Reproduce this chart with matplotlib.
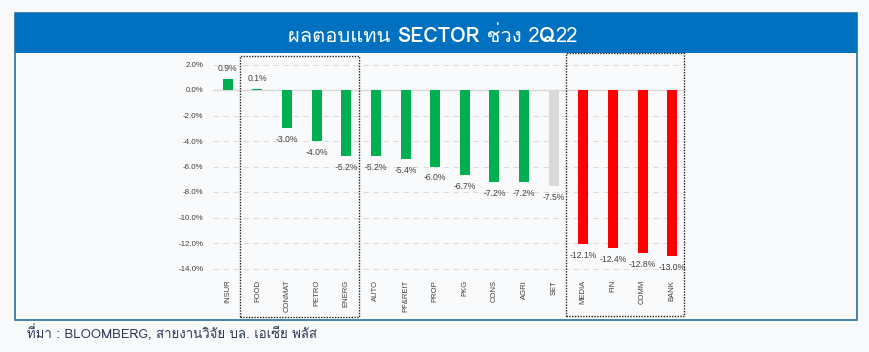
import matplotlib
matplotlib.use('Agg')
import matplotlib.pyplot as plt
import matplotlib.text as mtext
import numpy as np
from matplotlib import font_manager
from matplotlib.ft2font import FT2Font
from matplotlib.patches import Rectangle
from matplotlib.transforms import blended_transform_factory

sectors = ['INSUR', 'FOOD', 'CONMAT', 'PETRO', 'ENERG', 'AUTO', 'PF&REIT', 'PROP',
           'PKG', 'CONS', 'AGRI', 'SET', 'MEDIA', 'FIN', 'COMM', 'BANK']
returns = [0.9, 0.1, -3.0, -4.0, -5.2, -5.2, -5.4, -6.0,
           -6.7, -7.2, -7.2, -7.5, -12.1, -12.4, -12.8, -13.0]
worst_group = ['MEDIA', 'FIN', 'COMM', 'BANK']
boxed_group = ['FOOD', 'CONMAT', 'PETRO', 'ENERG']
yticks = np.arange(-14, 3, 2)

title_parts = [('ผลตอบแทน ', 'normal'), ('SECTOR', 'bold'), (' ช่วง 2', 'normal'),
               ('Q', 'bold'), ('22', 'normal')]
source = 'ที่มา : BLOOMBERG, สายงานวิจัย บล. เอเซีย พลัส'


def find_thai_family():
    for f in font_manager.fontManager.ttflist:
        try:
            if ord('ผ') in FT2Font(f.fname).get_charmap():
                return f.name
        except Exception:
            pass
    return None


thai = find_thai_family()
fams = ([thai] if thai else []) + ['Liberation Sans', 'DejaVu Sans']
plt.rcParams['font.family'] = ['Liberation Sans', 'DejaVu Sans']

W, H = 869, 352
fig = plt.figure(figsize=(W / 100, H / 100), dpi=100)
fig.set_facecolor('#f8f9fa')


def fx(px):
    return px / W


def fy(py):
    return 1 - py / H


# panel + title bar
fig.patches.append(Rectangle((fx(15), fy(320)), fx(857) - fx(15), fy(13) - fy(320),
                             transform=fig.transFigure, facecolor='#f9fafb',
                             edgecolor='#2a6f9e', linewidth=1.2, zorder=0))
fig.patches.append(Rectangle((fx(15), fy(53)), fx(857) - fx(15), fy(13) - fy(53),
                             transform=fig.transFigure, facecolor='#0070c0',
                             edgecolor='none', zorder=1))

# title, pieced together so SECTOR and Q are bold
prev = fig.text(fx(288), fy(34), title_parts[0][0], color='white', fontsize=14.5,
                fontweight=title_parts[0][1], family=fams, va='center_baseline', ha='left',
                zorder=3)
for txt, wt in title_parts[1:]:
    prev = fig.add_artist(mtext.Annotation(
        txt, xy=(1, 0), xycoords=prev, va='bottom', ha='left', color='white',
        fontsize=14.5, fontweight=wt, family=fams, zorder=3))

# main axes
top_pct, bot_pct = 2.55, -14.45
ax = fig.add_axes([fx(213), fy(90 + 12.75 * -bot_pct), fx(687) - fx(213),
                   12.75 * (top_pct - bot_pct) / H])
ax.set_zorder(2)
ax.set_facecolor('none')
x = np.arange(len(sectors))
colors = []
for s in sectors:
    if s == 'SET':
        colors.append('#d9d9d9')
    elif s in worst_group:
        colors.append('#ff0000')
    else:
        colors.append('#00b050')
ax.bar(x, returns, width=0.34, color=colors, zorder=3)
ax.axhline(0, color='#d9d9d9', lw=1, zorder=2)
ax.set_xlim(-0.5, len(sectors) - 0.5)
ax.set_ylim(bot_pct, top_pct)
ax.set_yticks(yticks)
ax.set_yticklabels(['%.1f%%' % v for v in yticks], fontsize=5.7, color='#404040')
ax.grid(axis='y', color='#dcdcdc', linestyle=(0, (5, 4)), lw=0.8, zorder=0)
ax.set_xticks(x)
ax.set_xticklabels(sectors, rotation=90, fontsize=5.5, color='#404040', va='top')
ax.tick_params(length=0)
ax.tick_params(axis='y', pad=7)
ax.tick_params(axis='x', pad=4)
for sp in ax.spines.values():
    sp.set_visible(False)

for xi, v in zip(x, returns):
    off = 4 if v >= 0 else -5
    ax.annotate('%.1f%%' % v, (xi, v), xytext=(0, off), textcoords='offset points',
                ha='center', va='bottom' if v >= 0 else 'top', fontsize=6.2,
                color='#404040', zorder=4)

# dotted boxes around groups
tr = blended_transform_factory(ax.transData, fig.transFigure)
i0, i1 = sectors.index(boxed_group[0]), sectors.index(boxed_group[-1])
ax.add_patch(Rectangle((i0 - 0.6, fy(317)), (i1 + 0.44) - (i0 - 0.6), fy(56) - fy(317),
                       transform=tr, fill=False, edgecolor='#222222', lw=1,
                       linestyle=(0, (1, 1)), clip_on=False, zorder=5))
j0, j1 = sectors.index(worst_group[0]), sectors.index(worst_group[-1])
ax.add_patch(Rectangle((j0 - 0.57, fy(316)), (j1 + 0.4) - (j0 - 0.57), fy(53) - fy(316),
                       transform=tr, fill=False, edgecolor='#222222', lw=1,
                       linestyle=(0, (1, 1)), clip_on=False, zorder=5))

fig.text(fx(27), fy(333), source, fontsize=9.5, color='#2f3b55', family=fams,
         ha='left', va='center')

fig.savefig('out.png', dpi=100, facecolor=fig.get_facecolor())
